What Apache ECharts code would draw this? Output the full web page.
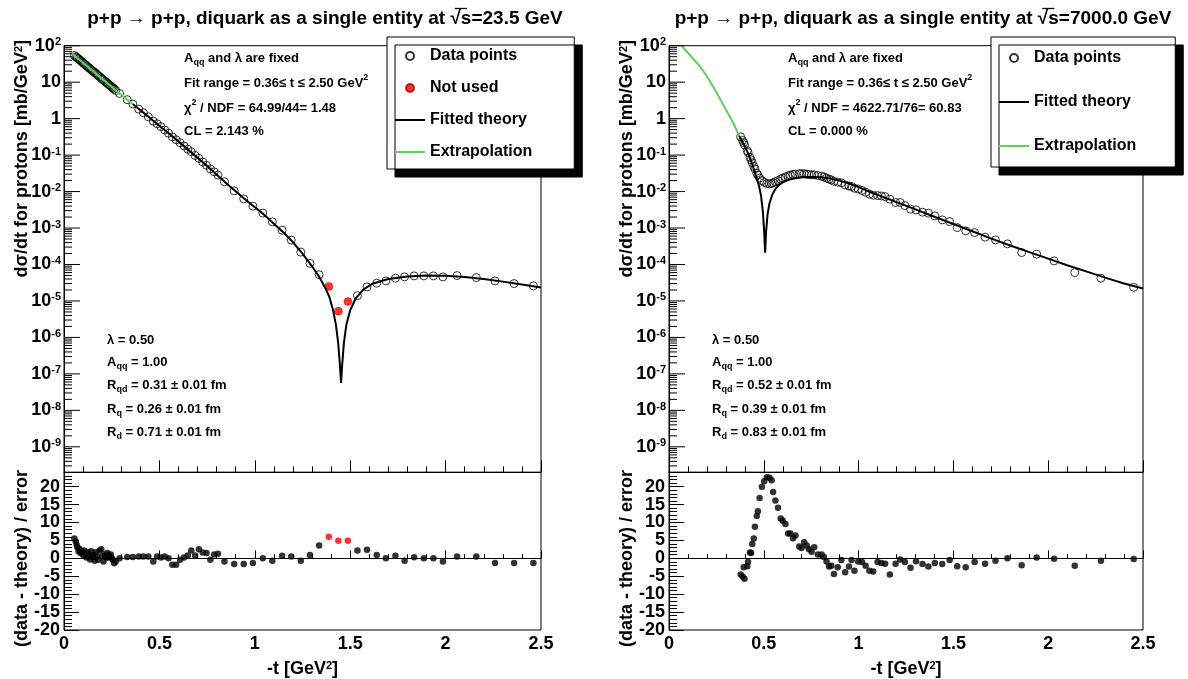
<!DOCTYPE html>
<html><head><meta charset="utf-8">
<script src="https://cdn.jsdelivr.net/npm/echarts@6/dist/echarts.min.js"></script>
<style>html,body{margin:0;padding:0;background:#fff}#c{width:1188px;height:679px}</style>
</head><body><div id="c"></div>
<script>
const FONT = '"Liberation Sans", Arial, Helvetica, sans-serif';

// ---------------- DATA : sqrt(s) = 23.5 GeV (left) ----------------
// log10 of dsigma/dt [mb/GeV^2]
const leftUsedT = [
0.054,0.062,0.066,0.070,0.076,0.080,0.086,0.094,0.100,0.106,0.112,0.118,0.124,0.131,0.137,0.143,0.149,0.155,0.161,0.167,0.173,0.179,0.187,0.195,0.201,0.207,0.215,0.221,0.227,0.233,0.239,0.245,0.251,0.257,0.263,0.271,
0.291,0.331,0.361,0.392,0.416,0.442,0.468,0.488,0.508,0.528,0.548,0.568,0.588,0.608,0.629,0.649,0.667,0.687,0.707,0.727,0.747,0.767,0.787,0.807,
0.841,0.892,0.942,0.990,1.042,1.092,1.143,1.191,1.241,1.289,1.337,
1.538,1.588,1.639,1.687,1.737,1.785,1.835,1.886,1.936,1.986,2.060,2.161,2.259,2.359,2.460];
const leftUsedLog = [
1.73,1.70,1.68,1.66,1.64,1.62,1.59,1.56,1.53,1.50,1.48,1.45,1.42,1.39,1.37,1.34,1.31,1.29,1.26,1.24,1.21,1.18,1.15,1.11,1.08,1.06,1.02,1.00,0.97,0.94,0.92,0.89,0.86,0.84,0.81,0.77,
0.69,0.52,0.40,0.26,0.16,0.05,-0.07,-0.14,-0.22,-0.31,-0.40,-0.50,-0.58,-0.66,-0.75,-0.84,-0.91,-1.01,-1.09,-1.19,-1.28,-1.38,-1.46,-1.55,
-1.73,-1.98,-2.20,-2.40,-2.59,-2.83,-3.06,-3.33,-3.66,-3.97,-4.28,
-4.853,-4.615,-4.513,-4.450,-4.376,-4.340,-4.313,-4.313,-4.313,-4.340,-4.304,-4.359,-4.450,-4.524,-4.587];
const leftUsedRes = [
5.5,4.7,3.8,3.1,2.0,2.7,1.5,2.0,0.9,2.2,1.1,0.2,1.7,0.6,-0.3,2.0,0.2,0.9,-0.7,1.7,0.5,-0.4,2.2,2.5,0.6,-0.9,1.1,0.2,1.5,0.2,0.7,1.1,0.0,-0.5,-1.4,-0.9,
0.0,0.4,0.4,0.5,0.5,0.5,-0.9,0.5,0.2,0.5,0.0,-1.8,-1.8,-0.4,0.2,0.8,2.2,0.8,2.5,1.6,1.5,-0.4,1.1,1.3,
-0.9,-1.6,-1.6,-1.3,0.0,-0.7,0.7,0.5,-0.7,0.9,3.6,
2.2,2.4,0.9,0.0,0.7,-0.7,0.3,0.0,0.0,-0.9,0.5,0.5,-1.3,-1.3,-1.3];
const leftNotUsedT = [1.388, 1.438, 1.488];
const leftNotUsedLog = [-4.606, -5.281, -5.018];
const leftNotUsedRes = [6.0, 4.9, 4.9];
const leftTheoryT = [0.36,0.45,0.55,0.65,0.75,0.85,0.95,1.05,1.15,1.20,1.25,1.30,1.34,1.37,1.39,1.41,1.425,1.437,1.446,1.452,1.458,1.467,1.48,1.50,1.53,1.57,1.62,1.70,1.80,1.90,2.00,2.10,2.20,2.30,2.40,2.50];
const leftTheoryLog = [0.40,0.02,-0.41,-0.85,-1.30,-1.77,-2.22,-2.64,-3.12,-3.39,-3.70,-4.05,-4.36,-4.65,-4.88,-5.25,-5.65,-6.15,-6.75,-7.25,-6.75,-6.15,-5.65,-5.25,-4.92,-4.68,-4.52,-4.40,-4.33,-4.30,-4.31,-4.34,-4.40,-4.47,-4.55,-4.63];
const leftExtrapT = [0.03, 0.10, 0.20, 0.30, 0.36];
const leftExtrapLog = [1.84, 1.53, 1.09, 0.65, 0.40];

// ---------------- DATA : sqrt(s) = 7000 GeV (right) ----------------
const rightT = [
0.378,0.388,0.394,0.398,0.413,0.417,0.427,0.433,0.439,0.447,
0.453,0.463,0.469,0.478,0.490,0.502,0.516,0.530,0.541,0.549,
0.561,0.575,0.589,0.600,0.614,0.628,0.640,0.654,0.667,0.687,
0.699,0.713,0.726,0.738,0.752,0.766,0.785,0.805,0.817,0.831,
0.844,0.856,0.870,0.890,0.909,0.929,0.949,0.963,0.978,0.998,
1.018,1.037,1.057,1.077,1.100,1.120,1.140,1.165,1.195,1.219,
1.244,1.274,1.303,1.337,1.368,1.402,1.441,1.480,1.520,1.565,
1.612,1.667,1.722,1.785,1.860,1.939,2.031,2.140,2.278,2.451];
const rightLog = [
-0.50,-0.60,-0.66,-0.72,-0.88,-0.93,-1.06,-1.13,-1.21,-1.31,
-1.38,-1.50,-1.55,-1.63,-1.70,-1.75,-1.78,-1.79,-1.78,-1.76,
-1.73,-1.70,-1.66,-1.63,-1.60,-1.57,-1.55,-1.53,-1.52,-1.51,
-1.51,-1.51,-1.52,-1.53,-1.54,-1.54,-1.56,-1.58,-1.60,-1.63,
-1.66,-1.68,-1.72,-1.74,-1.76,-1.82,-1.85,-1.86,-1.91,-1.93,
-1.97,-2.02,-2.07,-2.10,-2.11,-2.12,-2.14,-2.21,-2.30,-2.30,
-2.385,-2.483,-2.502,-2.565,-2.593,-2.667,-2.777,-2.823,-2.988,-3.078,
-3.125,-3.251,-3.325,-3.435,-3.673,-3.717,-3.901,-4.222,-4.376,-4.626];
const rightRes = [
-4.5,-5.1,-2.5,-5.7,-2.2,-1.0,1.6,1.5,4.0,5.5,
8.8,11.8,13.1,16.8,20.0,21.5,22.6,22.5,21.8,18.5,
16.1,14.1,11.1,10.5,9.6,6.9,6.9,5.6,6.4,3.3,
2.9,4.5,3.6,2.5,1.8,3.1,1.1,1.1,0.4,-0.9,
-2.3,-2.1,-4.4,-2.5,-0.5,-3.9,-2.3,-0.5,-3.5,-0.9,
-1.0,-2.1,-3.5,-3.7,-1.0,-1.3,-1.5,-4.5,-1.5,-0.3,
-1.0,-2.6,-0.8,-1.6,-2.3,-1.3,-1.6,-0.5,-2.2,-2.5,
-1.0,-1.5,-0.7,0.0,-1.9,0.2,-0.1,-2.1,-0.7,-0.2];
const rightTheoryT = [0.37,0.40,0.42,0.44,0.46,0.475,0.485,0.495,0.502,0.507,0.512,0.52,0.53,0.545,0.56,0.58,0.60,0.63,0.66,0.70,0.75,0.80,0.85,0.90,0.95,1.00,1.05,1.10,1.20,1.30,1.40,1.50,1.60,1.70,1.80,1.90,2.00,2.10,2.20,2.30,2.40,2.50];
const rightTheoryLog = [-0.47,-0.76,-0.98,-1.26,-1.58,-1.85,-2.10,-2.55,-3.10,-3.68,-3.10,-2.62,-2.32,-2.08,-1.94,-1.82,-1.75,-1.68,-1.64,-1.61,-1.60,-1.61,-1.64,-1.70,-1.78,-1.88,-1.99,-2.09,-2.29,-2.49,-2.69,-2.89,-3.09,-3.29,-3.48,-3.66,-3.84,-4.02,-4.19,-4.36,-4.52,-4.66];
const rightExtrapT = [0.05,0.10,0.164,0.20,0.252,0.30,0.339,0.37];
const rightExtrapLog = [2.10,1.80,1.43,1.16,0.70,0.25,-0.12,-0.47];

// ---------------- tick labels & titles ----------------
const xTickLabels = ['0','0.5','1','1.5','2','2.5'];
const resTickLabels = ['-20','-15','-10','-5','0','5','10','15','20'];
const logMajorExp = [-9,-8,-7,-6,-5,-4,-3,-2,-1,0,1,2];
const logTickLabels = [['10','-9'],['10','-8'],['10','-7'],['10','-6'],['10','-5'],['10','-4'],['10','-3'],['10','-2'],['10','-1'],['1',''],['10',''],['10','2']];
const titlePrefix = 'p+p \u2192 p+p, diquark as a single entity at \u221A';
const titleEnergies = ['=23.5 GeV', '=7000.0 GeV'];
const titleCenters = [320, 918];

const Y_MIN = 2e-10, Y_MAX = 100, R_MIN = -20, R_MAX = 24;
const TITLE_FS = 19;

// ---------------- helpers ----------------
const pts = (ts, logs) => ts.map((t, i) => [t, Math.pow(10, logs[i])]);
const res = (ts, rs) => ts.map((t, i) => [t, rs[i]]);

function logTickData() {
  const d = [];
  logMajorExp.forEach((e, i) => d.push([0, Math.pow(10, e), 1, i]));
  for (let e = -10; e < 2; e++) for (let k = 2; k <= 9; k++) {
    const v = k * Math.pow(10, e);
    if (v > Y_MIN && v < Y_MAX) d.push([0, v, 0, -1]);
  }
  return d;
}
function renderLogTick(params, api) {
  const v = api.value(1), major = api.value(2), idx = api.value(3);
  const p = api.coord([0, v]);
  const len = major ? 16 : 8;
  const ch = [{type: 'line', shape: {x1: p[0], y1: p[1], x2: p[0] + len, y2: p[1]}, style: {stroke: '#000', lineWidth: 1}}];
  if (major) {
    const lab = logTickLabels[idx];
    const txt = lab[1] ? lab[0] + '{s|' + lab[1] + '}' : lab[0];
    ch.push({type: 'text', x: p[0] - 3, y: p[1], style: {
      text: txt, align: 'right', verticalAlign: 'middle', fill: '#000',
      font: 'bold 18px ' + FONT,
      rich: {s: {fontFamily: FONT, fontWeight: 'bold', fontSize: 11, verticalAlign: 'top', lineHeight: 11, fill: '#000'}}
    }});
  }
  return {type: 'group', children: ch};
}

const RICH = {
  sub: {fontFamily: FONT, fontWeight: 'bold', fontSize: 9, verticalAlign: 'bottom', lineHeight: 9, fill: '#000'},
  sup: {fontFamily: FONT, fontWeight: 'bold', fontSize: 9, verticalAlign: 'top', lineHeight: 9, fill: '#000'}
};
function ann(x, y, text) {
  return {type: 'text', x: x, y: y, silent: true, style: {
    text: text, font: 'bold 13px ' + FONT, lineHeight: 19, fill: '#000', align: 'left', verticalAlign: 'middle', rich: RICH}};
}
function vtitle(x, y, text) {
  return {type: 'text', x: x, y: y, rotation: Math.PI / 2, silent: true, style: {
    text: text, font: 'bold 18px ' + FONT, fill: '#000', align: 'right', verticalAlign: 'middle',
    rich: {s: {fontFamily: FONT, fontWeight: 'bold', fontSize: 11, verticalAlign: 'top', lineHeight: 11, fill: '#000'}}}};
}
// overline over the "s" of the square root in the titles (layout from text metrics)
function sqrtBars() {
  const ctx = document.createElement('canvas').getContext('2d');
  ctx.font = 'bold ' + TITLE_FS + 'px ' + FONT;
  const out = [];
  titleEnergies.forEach((en, i) => {
    const full = ctx.measureText(titlePrefix + 's' + en).width;
    const pre = ctx.measureText(titlePrefix).width;
    const sw = ctx.measureText('s').width;
    const x0 = titleCenters[i] - full / 2;
    out.push({type: 'line', silent: true, shape: {x1: x0 + pre - 1, y1: 8.5, x2: x0 + pre + sw + 0.5, y2: 8.5},
      style: {stroke: '#000', lineWidth: 1.3}});
  });
  return out;
}

const GL = [64, 669], GW = [477, 474];
const TOP = 45.7, TOPH = 426.6, RTOP = 472.3, RH = 161.7;

const grids = [
  {left: GL[0], top: TOP, width: GW[0], height: TOPH},
  {left: GL[0], top: RTOP, width: GW[0], height: RH},
  {left: GL[1], top: TOP, width: GW[1], height: TOPH},
  {left: GL[1], top: RTOP, width: GW[1], height: RH}
].map(g => Object.assign(g, {show: true, borderColor: '#000', borderWidth: 1, backgroundColor: '#fff'}));

const black = {color: '#000'};
function xAxisTop(gi) {
  return {type: 'value', gridIndex: gi, min: 0, max: 2.5, interval: 0.5,
    axisLine: {show: true, lineStyle: black}, axisTick: {show: true, inside: true, length: 12, lineStyle: black},
    minorTick: {show: true, splitNumber: 5, length: 6, lineStyle: black},
    axisLabel: {show: false}, splitLine: {show: false}};
}
function xAxisRes(gi) {
  return {type: 'value', gridIndex: gi, min: 0, max: 2.5, interval: 0.5,
    axisLine: {show: true, lineStyle: black}, axisTick: {show: true, inside: true, length: 8, lineStyle: black},
    minorTick: {show: true, splitNumber: 5, length: 4, lineStyle: black},
    axisLabel: {show: true, margin: 5, color: '#000', fontFamily: FONT, fontWeight: 'bold', fontSize: 18,
      formatter: v => xTickLabels[Math.round(v / 0.5)] ?? ''},
    splitLine: {show: false},
    name: '-t [GeV{s|2}]', nameLocation: 'middle', nameGap: 30,
    nameTextStyle: {color: '#000', fontFamily: FONT, fontWeight: 'bold', fontSize: 18,
      rich: {s: {fontFamily: FONT, fontWeight: 'bold', fontSize: 11, verticalAlign: 'top', lineHeight: 11, color: '#000'}}}};
}
function yAxisTop(gi) {
  return {type: 'log', logBase: 10, gridIndex: gi, min: Y_MIN, max: Y_MAX,
    axisLine: {show: true, lineStyle: black}, axisTick: {show: false}, axisLabel: {show: false}, splitLine: {show: false}};
}
function yAxisRes(gi) {
  return {type: 'value', gridIndex: gi, min: R_MIN, max: R_MAX, interval: 5,
    axisLine: {show: true, lineStyle: black}, axisTick: {show: true, inside: true, length: 15, lineStyle: black},
    minorTick: {show: true, splitNumber: 5, length: 8, lineStyle: black},
    axisLabel: {show: true, showMaxLabel: false, margin: 4, color: '#000', fontFamily: FONT, fontWeight: 'bold', fontSize: 18,
      formatter: v => resTickLabels[Math.round((v + 20) / 5)] ?? ''},
    splitLine: {show: false}};
}

const openCircle = {color: 'rgba(0,0,0,0)', borderColor: '#000', borderWidth: 1};
const lineBase = {type: 'line', symbol: 'none', showSymbol: false, smooth: false, silent: true, z: 4};
const LINE_ICON = 'path://M0,0 L30,0 L30,2 L0,2 Z';

function legendCfg(left, data, gap, pad) {
  return {left: left, top: 37, orient: 'vertical', data: data, selectedMode: false,
    itemWidth: 30, itemHeight: 8, itemGap: gap, padding: pad, symbolKeepAspect: true,
    backgroundColor: '#fff', borderColor: '#000', borderWidth: 1, borderRadius: 0,
    shadowColor: '#000', shadowBlur: 0, shadowOffsetX: 8, shadowOffsetY: 8,
    textStyle: {color: '#000', fontFamily: FONT, fontWeight: 'bold', fontSize: 16}};
}
const LEG_THEORY = {name: 'Fitted theory', icon: LINE_ICON, itemStyle: {color: '#000', borderWidth: 0}};
const LEG_EXTRAP = {name: 'Extrapolation', icon: LINE_ICON, itemStyle: {color: '#5ad45a', borderWidth: 0}};

const option = {
  animation: false,
  backgroundColor: '#fff',
  title: titleEnergies.map((en, i) => ({
    text: titlePrefix + 's' + en, left: titleCenters[i], top: 4, textAlign: 'center',
    textStyle: {color: '#000', fontFamily: FONT, fontWeight: 'bold', fontSize: TITLE_FS}})),
  legend: [
    legendCfg(387, ['Data points', 'Not used', LEG_THEORY, LEG_EXTRAP], 16, [11, 42, 9, 8]),
    legendCfg(991, ['Data points', LEG_THEORY, LEG_EXTRAP], 28, [13, 39, 13, 8])
  ],
  grid: grids,
  xAxis: [xAxisTop(0), xAxisRes(1), xAxisTop(2), xAxisRes(3)],
  yAxis: [yAxisTop(0), yAxisRes(1), yAxisTop(2), yAxisRes(3)],
  series: [
    {type: 'custom', name: 'ticksL', xAxisIndex: 0, yAxisIndex: 0, silent: true, clip: false, z: 5,
      encode: {x: 0, y: 1}, data: logTickData(), renderItem: renderLogTick},
    {type: 'scatter', name: 'Data points', xAxisIndex: 0, yAxisIndex: 0, symbol: 'circle', symbolSize: 8,
      itemStyle: openCircle, data: pts(leftUsedT, leftUsedLog), z: 3},
    {type: 'scatter', name: 'Not used', xAxisIndex: 0, yAxisIndex: 0, symbol: 'circle', symbolSize: 8,
      itemStyle: {color: '#ff0000', borderColor: '#aa0000', borderWidth: 0.5}, data: pts(leftNotUsedT, leftNotUsedLog), z: 3},
    Object.assign({}, lineBase, {name: 'Fitted theory', xAxisIndex: 0, yAxisIndex: 0,
      lineStyle: {color: '#000', width: 2}, itemStyle: {color: '#000'}, data: pts(leftTheoryT, leftTheoryLog)}),
    Object.assign({}, lineBase, {name: 'Extrapolation', xAxisIndex: 0, yAxisIndex: 0,
      lineStyle: {color: '#5ad45a', width: 2}, itemStyle: {color: '#5ad45a'}, data: pts(leftExtrapT, leftExtrapLog)}),
    {type: 'scatter', name: 'Residuals 23.5 GeV', xAxisIndex: 1, yAxisIndex: 1, symbol: 'circle', symbolSize: 6.5,
      itemStyle: {color: '#000'}, data: res(leftUsedT, leftUsedRes)},
    {type: 'scatter', name: 'Residuals not used', xAxisIndex: 1, yAxisIndex: 1, symbol: 'circle', symbolSize: 6.5,
      itemStyle: {color: '#ff0000'}, data: res(leftNotUsedT, leftNotUsedRes)},

    {type: 'custom', name: 'ticksR', xAxisIndex: 2, yAxisIndex: 2, silent: true, clip: false, z: 5,
      encode: {x: 0, y: 1}, data: logTickData(), renderItem: renderLogTick},
    {type: 'scatter', name: 'Data points', xAxisIndex: 2, yAxisIndex: 2, symbol: 'circle', symbolSize: 8,
      itemStyle: openCircle, data: pts(rightT, rightLog), z: 3},
    Object.assign({}, lineBase, {name: 'Fitted theory', xAxisIndex: 2, yAxisIndex: 2,
      lineStyle: {color: '#000', width: 2}, itemStyle: {color: '#000'}, data: pts(rightTheoryT, rightTheoryLog)}),
    Object.assign({}, lineBase, {name: 'Extrapolation', xAxisIndex: 2, yAxisIndex: 2,
      lineStyle: {color: '#5ad45a', width: 2}, itemStyle: {color: '#5ad45a'}, data: pts(rightExtrapT, rightExtrapLog)}),
    {type: 'scatter', name: 'Residuals 7000 GeV', xAxisIndex: 3, yAxisIndex: 3, symbol: 'circle', symbolSize: 6.5,
      itemStyle: {color: '#000'}, data: res(rightT, rightRes)}
  ],
  graphic: [
    ann(184, 58, 'A{sub|qq} and \u03bb are fixed'),
    ann(184, 83, 'Fit range = 0.36\u2264 t \u2264 2.50 GeV{sup|2}'),
    ann(184, 108, '\u03c7{sup|2} / NDF = 64.99/44= 1.48'),
    ann(184, 131, 'CL = 2.143 %'),
    ann(107, 340, '\u03bb = 0.50'),
    ann(107, 362, 'A{sub|qq} = 1.00'),
    ann(107, 385, 'R{sub|qd} = 0.31 \u00b1 0.01 fm'),
    ann(107, 409, 'R{sub|q} = 0.26 \u00b1 0.01 fm'),
    ann(107, 432, 'R{sub|d} = 0.71 \u00b1 0.01 fm'),
    ann(788, 58, 'A{sub|qq} and \u03bb are fixed'),
    ann(788, 83, 'Fit range = 0.36\u2264 t \u2264 2.50 GeV{sup|2}'),
    ann(788, 108, '\u03c7{sup|2} / NDF = 4622.71/76= 60.83'),
    ann(788, 131, 'CL = 0.000 %'),
    ann(712, 340, '\u03bb = 0.50'),
    ann(712, 362, 'A{sub|qq} = 1.00'),
    ann(712, 385, 'R{sub|qd} = 0.52 \u00b1 0.01 fm'),
    ann(712, 409, 'R{sub|q} = 0.39 \u00b1 0.01 fm'),
    ann(712, 432, 'R{sub|d} = 0.83 \u00b1 0.01 fm'),
    vtitle(22, 40, 'd\u03c3/dt for protons [mb/GeV{s|2}]'),
    vtitle(22, 470, '(data - theory) / error'),
    vtitle(627, 40, 'd\u03c3/dt for protons [mb/GeV{s|2}]'),
    vtitle(627, 470, '(data - theory) / error')
  ].concat(sqrtBars())
};

const chart = echarts.init(document.getElementById('c'), null, {renderer: 'canvas'});
chart.setOption(option);
</script>
</body></html>
